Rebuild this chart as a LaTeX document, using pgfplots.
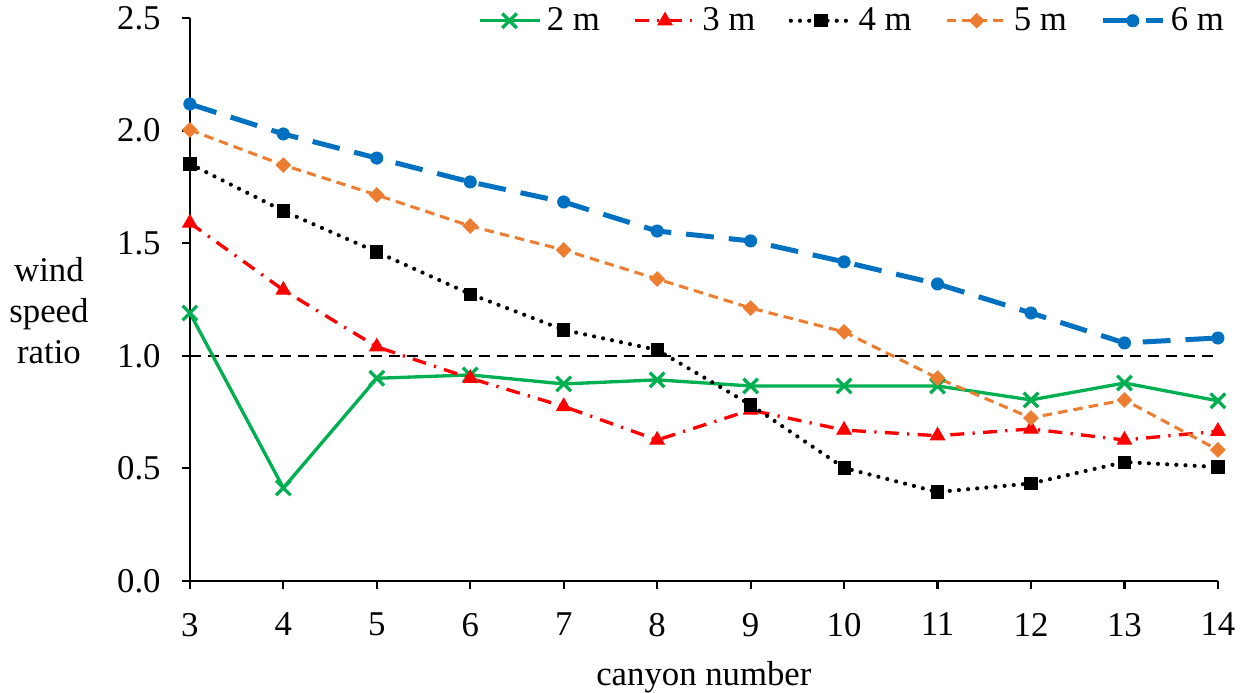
\documentclass[border=0pt]{standalone}
\usepackage{pgfplots}
\pgfplotsset{compat=1.18}
\usepackage{fontspec}
\setmainfont{Liberation Serif}
\definecolor{cgreen}{HTML}{00B050}
\definecolor{cred}{HTML}{FF0000}
\definecolor{corange}{HTML}{ED7D31}
\definecolor{cblue}{HTML}{0070C0}
\begin{document}
\begin{tikzpicture}[font=\fontsize{12.5}{14.7}\selectfont]
\begin{axis}[
  scale only axis, width=369.8pt, height=202.5pt,
  xmin=3, xmax=14, ymin=0, ymax=2.5,
  xtick={3,4,...,14}, ytick={0,0.5,...,2.5},
  axis x line*=bottom, axis y line*=left,
  axis line style={line width=0.8pt, -},
  tick align=outside, major tick length=3pt,
  tick style={line width=0.8pt, black},
  /pgf/number format/assume math mode=true,
  yticklabel style={xshift=-4pt, /pgf/number format/.cd, fixed, fixed zerofill, precision=1},
  xticklabel style={yshift=-5pt},
  xlabel={canyon number},
  ylabel={wind\\speed\\ratio},
  every axis y label/.style={at={(axis description cs:-0.089,0.48)}, anchor=east, align=center},
  xlabel style={yshift=-2pt},
  clip=false,
  legend columns=5,
  legend style={draw=none, fill=none, at={(1.02,1.04)}, anchor=north east,
    /tikz/every even column/.append style={column sep=10pt}},
  legend image code/.code={\draw[mark repeat=2,mark phase=2] plot coordinates {(0cm,0cm) (0.38cm,0cm) (0.76cm,0cm)};},
]
\addplot[black, line width=0.6pt, dash pattern=on 4pt off 2.5pt, forget plot] coordinates {(3,1) (14,1)};
\addplot[cgreen, line width=1.2pt, mark=x, mark size=3.7pt, mark options={solid, line width=1.2pt}] coordinates {
(3,1.19) (4,0.413) (5,0.90) (6,0.915) (7,0.875) (8,0.893) (9,0.866) (10,0.866) (11,0.866) (12,0.804) (13,0.879) (14,0.80)};
\addlegendentry{2 m}
\addplot[cred, line width=1.2pt, dash pattern=on 5pt off 3pt on 0.8pt off 3pt, mark=triangle*, mark size=3.0pt, mark options={solid, line width=0.3pt}] coordinates {
(3,1.59) (4,1.292) (5,1.04) (6,0.90) (7,0.775) (8,0.626) (9,0.759) (10,0.67) (11,0.645) (12,0.675) (13,0.626) (14,0.665)};
\addlegendentry{3 m}
\addplot[black, line width=1.5pt, line cap=round, dash pattern=on 0pt off 3.3pt, mark=square*, mark size=2.2pt, mark options={solid, line width=0.3pt}] coordinates {
(3,1.852) (4,1.643) (5,1.461) (6,1.274) (7,1.115) (8,1.026) (9,0.782) (10,0.502) (11,0.395) (12,0.433) (13,0.528) (14,0.506)};
\addlegendentry{4 m}
\addplot[corange, line width=1.1pt, dash pattern=on 3.4pt off 2.2pt, mark=square*, mark size=1.85pt, mark options={solid, rotate=45, line width=0.3pt}] coordinates {
(3,2.003) (4,1.847) (5,1.714) (6,1.576) (7,1.470) (8,1.341) (9,1.212) (10,1.106) (11,0.901) (12,0.724) (13,0.804) (14,0.582)};
\addlegendentry{5 m}
\addplot[cblue, line width=1.8pt, dash pattern=on 10pt off 5.4pt, mark=*, mark size=2.2pt, mark options={solid, line width=0.3pt}] coordinates {
(3,2.118) (4,1.985) (5,1.878) (6,1.772) (7,1.683) (8,1.554) (9,1.510) (10,1.417) (11,1.319) (12,1.19) (13,1.057) (14,1.079)};
\addlegendentry{6 m}
\coordinate (bl) at (rel axis cs:-0.1847,-0.1975);
\coordinate (tr) at (rel axis cs:1.0322,1.032);
\end{axis}
\pgfresetboundingbox
\path[use as bounding box] (bl) rectangle (tr);
\end{tikzpicture}
\end{document}
